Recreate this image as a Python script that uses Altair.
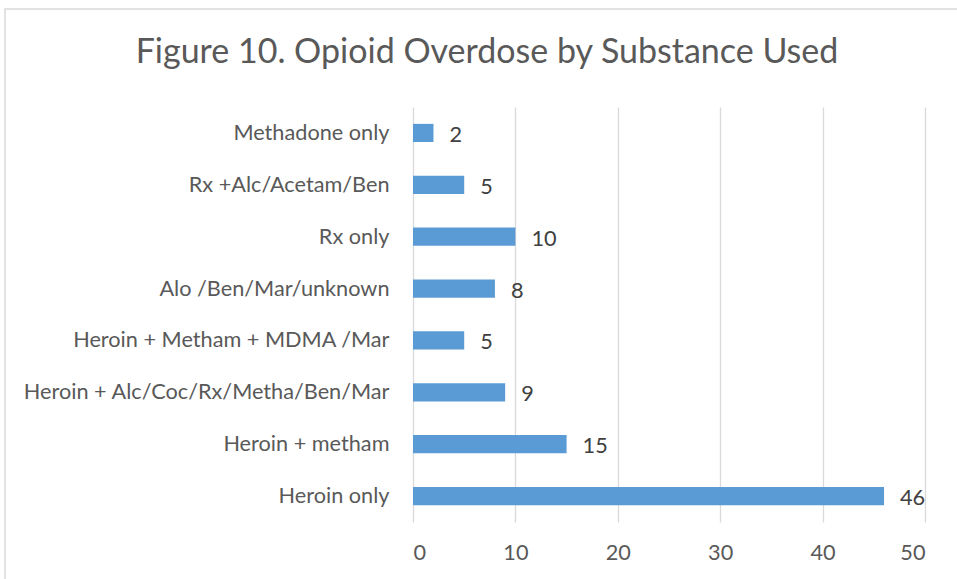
import altair as alt
import pandas as pd

categories = [
    "Methadone only",
    "Rx +Alc/Acetam/Ben",
    "Rx only",
    "Alo /Ben/Mar/unknown",
    "Heroin + Metham + MDMA /Mar",
    "Heroin + Alc/Coc/Rx/Metha/Ben/Mar",
    "Heroin + metham",
    "Heroin only",
]
values = [2, 5, 10, 8, 5, 9, 15, 46]
x_ticks = [0, 10, 20, 30, 40, 50]
title_text = "Figure 10. Opioid Overdose by Substance Used"

df = pd.DataFrame({"substance": categories, "count": values})
title_df = pd.DataFrame({"t": [title_text]})

FONT = "Lato"
GREY = "#595959"
FS = 21.7

y_enc = alt.Y(
    "substance:N",
    sort=categories,
    scale=alt.Scale(paddingInner=0.65, paddingOuter=0.325),
    axis=alt.Axis(
        title=None,
        domain=False,
        ticks=False,
        labelFont=FONT,
        labelFontSize=FS,
        labelColor=GREY,
        labelPadding=24,
        labelLimit=500,
    ),
)
x_enc = alt.X(
    "count:Q",
    scale=alt.Scale(domain=[0, 50], nice=False),
    axis=alt.Axis(
        title=None,
        values=x_ticks,
        domain=False,
        ticks=False,
        grid=True,
        gridColor="#d9d9d9",
        gridWidth=1.3,
        labelFont=FONT,
        labelFontSize=FS,
        labelColor=GREY,
        labelPadding=20,
    ),
)

bars = alt.Chart(df).mark_bar(color="#5b9bd5").encode(x=x_enc, y=y_enc)
labels = alt.Chart(df).mark_text(
    align="left", baseline="middle", dx=16, dy=2, font=FONT, fontSize=FS, color="#404040"
).encode(x="count:Q", y=alt.Y("substance:N", sort=categories), text="count:Q")

frame = alt.Chart(title_df).mark_rect(
    filled=False, stroke="#d9d9d9", strokeWidth=1.5, clip=False
).encode(
    x=alt.value(-408), x2=alt.value(700), y=alt.value(-98), y2=alt.value(600)
)

title = alt.Chart(title_df).mark_text(
    align="center", baseline="middle", font=FONT, fontSize=34, color=GREY
).encode(x=alt.value(74), y=alt.value(-54), text="t:N")

chart = (
    alt.layer(frame, bars, labels, title)
    .properties(
        width=512,
        height=415,
        autosize=alt.AutoSizeParams(type="none"),
        padding={"left": 413, "top": 107, "right": 32, "bottom": 57},
        background="white",
    )
    .configure_view(stroke=None)
)

chart.save("out.html", embed_options={"renderer": "svg", "actions": False})
